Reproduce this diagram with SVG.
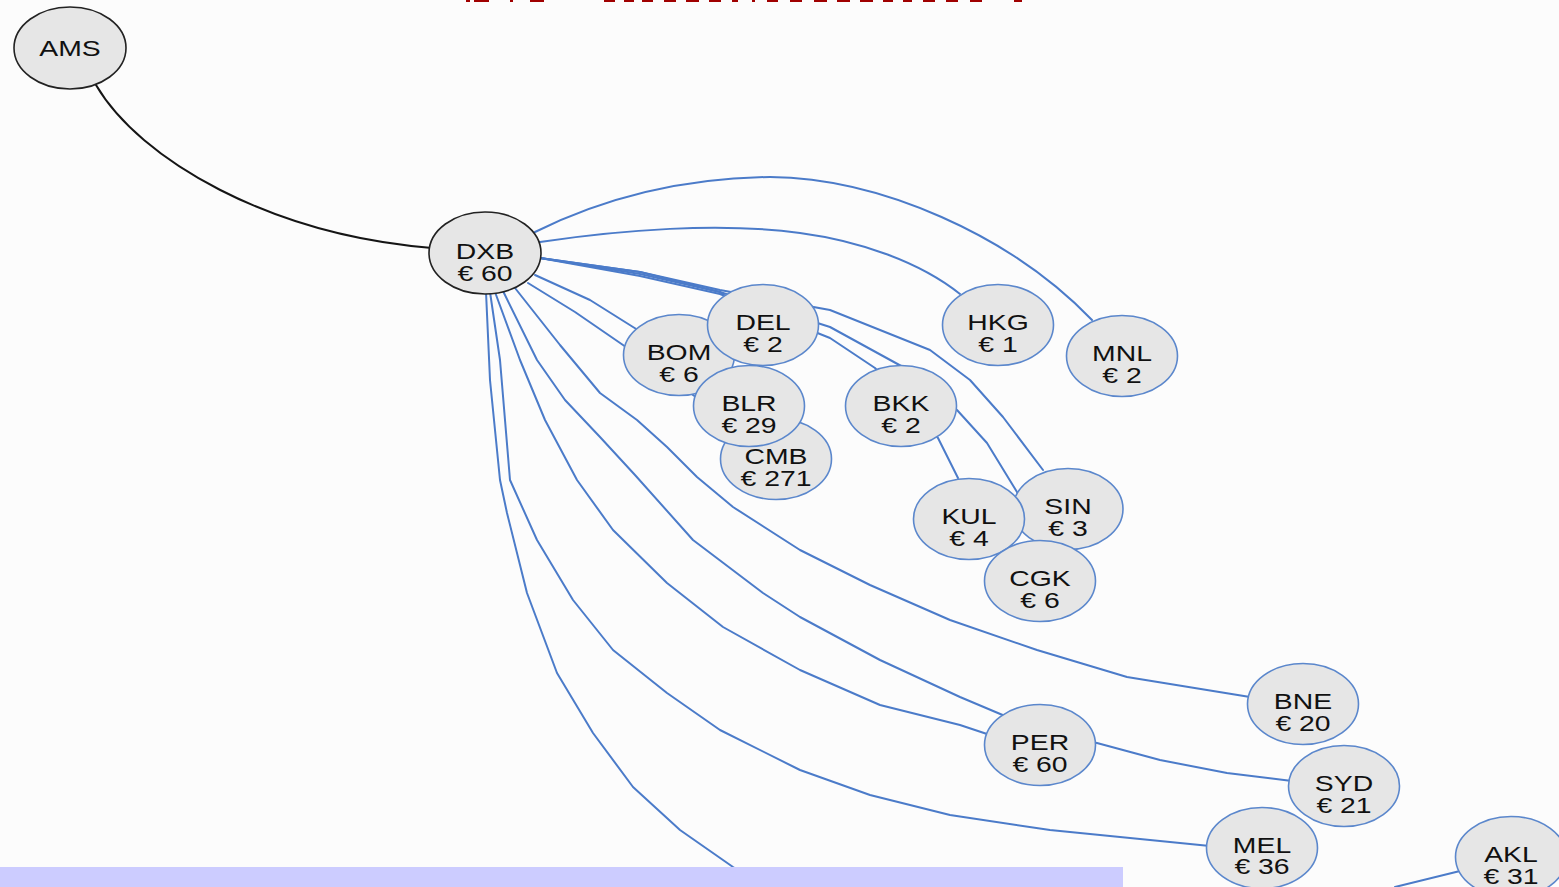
<svg xmlns="http://www.w3.org/2000/svg" width="1559" height="887" viewBox="0 0 1559 887">
<style>
.bg{fill:#fcfcfc}
.e{fill:none;stroke:#4b7bc9;stroke-width:2;stroke-linejoin:round;stroke-linecap:round}
.eb{fill:none;stroke:#151515;stroke-width:2;stroke-linejoin:round;stroke-linecap:round}
.n ellipse{fill:#e6e6e6;stroke:#5b87cc;stroke-width:1.6}
.nb ellipse{fill:#e6e6e6;stroke:#222;stroke-width:1.6}
text{font-family:"Liberation Sans",Arial,sans-serif;font-size:21.5px;fill:#111;text-anchor:middle}
.red{fill:#a00000}
</style>
<rect class="bg" x="0" y="0" width="1559" height="887"/>
<g id="title-fragments">
<rect class="red" x="466" y="0" width="4" height="2"/>
<rect class="red" x="474" y="0" width="15" height="2"/>
<rect class="red" x="510" y="0" width="3" height="2"/>
<rect class="red" x="530" y="0" width="14" height="2"/>
<rect class="red" x="604" y="0" width="11" height="2"/>
<rect class="red" x="624" y="0" width="10" height="2"/>
<rect class="red" x="642" y="0" width="11" height="2"/>
<rect class="red" x="664" y="0" width="12" height="2"/>
<rect class="red" x="686" y="0" width="13" height="2"/>
<rect class="red" x="709" y="0" width="12" height="2"/>
<rect class="red" x="732" y="0" width="6" height="2"/>
<rect class="red" x="752" y="0" width="3" height="2"/>
<rect class="red" x="767" y="0" width="11" height="2"/>
<rect class="red" x="790" y="0" width="12" height="2"/>
<rect class="red" x="814" y="0" width="13" height="2"/>
<rect class="red" x="837" y="0" width="13" height="2"/>
<rect class="red" x="860" y="0" width="13" height="2"/>
<rect class="red" x="883" y="0" width="10" height="2"/>
<rect class="red" x="903" y="0" width="9" height="2"/>
<rect class="red" x="923" y="0" width="12" height="2"/>
<rect class="red" x="946" y="0" width="12" height="2"/>
<rect class="red" x="970" y="0" width="12" height="2"/>
<rect class="red" x="1014" y="0" width="8" height="2"/>
</g>
<g id="connectors">
<path class="eb" d="M96,85 C140,160 270,235 432,248"/>
<path class="e" d="M535,232 C600,200 680,178 770,177 C880,178 1010,235 1092,320"/>
<path class="e" d="M540,242 C620,230 720,222 800,233 C860,241 920,262 960,294"/>
<polyline class="e" points="540,258 640,272 720,290 830,310 930,350 970,380 1003,417 1043,470"/>
<polyline class="e" points="540,258 640,274 720,292 830,327 903,367 957,410 987,443 1017,492 1040,540"/>
<polyline class="e" points="540,258 640,276 720,294 830,338 875,368 938,438 958,478"/>
<polyline class="e" points="540,258 640,272 720,292 762,324"/>
<polyline class="e" points="535,275 590,300 633,327 679,355"/>
<polyline class="e" points="528,283 575,312 623,345 700,400"/>
<polyline class="e" points="486,292 490,380 500,480 507,513 527,593 557,673 593,733 633,787 680,830 733,867 765,887"/>
<polyline class="e" points="490,292 500,360 510,480 537,540 573,600 613,650 667,693 720,730 800,770 870,795 950,815 1050,830 1150,840 1210,846"/>
<polyline class="e" points="495,292 520,360 545,420 577,480 613,530 667,583 723,627 800,670 880,705 960,725 990,735"/>
<polyline class="e" points="503,291 537,360 565,400 600,437 635,475 693,540 763,593 800,617 880,660 960,697 1005,716 1050,735 1097,743 1160,760 1227,773 1292,781"/>
<polyline class="e" points="515,288 560,345 600,393 637,420 667,447 697,477 733,507 800,550 870,585 950,620 1037,650 1127,677 1250,697"/>
<polyline class="e" points="1395,887 1460,871"/>
</g>
<g id="n-AMS" class="nb" transform="translate(70,48)"><ellipse rx="56" ry="41"/><text transform="scale(1.32,1)" x="0" y="8">AMS</text></g>
<g id="n-DXB" class="nb" transform="translate(485,253)"><ellipse rx="56" ry="41"/><text transform="scale(1.32,1)"><tspan x="0" y="6">DXB</tspan><tspan x="0" y="28">€ 60</tspan></text></g>
<g id="n-CMB" class="n" transform="translate(776,459)"><ellipse rx="55.5" ry="40.5"/><text transform="scale(1.32,1)"><tspan x="0" y="5">CMB</tspan><tspan x="0" y="27">€ 271</tspan></text></g>
<g id="n-BOM" class="n" transform="translate(679,355)"><ellipse rx="55.5" ry="40.5"/><text transform="scale(1.32,1)"><tspan x="0" y="5">BOM</tspan><tspan x="0" y="27">€ 6</tspan></text></g>
<g id="n-DEL" class="n" transform="translate(763,325)"><ellipse rx="55.5" ry="40.5"/><text transform="scale(1.32,1)"><tspan x="0" y="5">DEL</tspan><tspan x="0" y="27">€ 2</tspan></text></g>
<g id="n-BLR" class="n" transform="translate(749,406)"><ellipse rx="55.5" ry="40.5"/><text transform="scale(1.32,1)"><tspan x="0" y="5">BLR</tspan><tspan x="0" y="27">€ 29</tspan></text></g>
<g id="n-HKG" class="n" transform="translate(998,325)"><ellipse rx="55.5" ry="40.5"/><text transform="scale(1.32,1)"><tspan x="0" y="5">HKG</tspan><tspan x="0" y="27">€ 1</tspan></text></g>
<g id="n-MNL" class="n" transform="translate(1122,356)"><ellipse rx="55.5" ry="40.5"/><text transform="scale(1.32,1)"><tspan x="0" y="5">MNL</tspan><tspan x="0" y="27">€ 2</tspan></text></g>
<g id="n-BKK" class="n" transform="translate(901,406)"><ellipse rx="55.5" ry="40.5"/><text transform="scale(1.32,1)"><tspan x="0" y="5">BKK</tspan><tspan x="0" y="27">€ 2</tspan></text></g>
<g id="n-SIN" class="n" transform="translate(1068,509)"><ellipse rx="55" ry="40.5"/><text transform="scale(1.32,1)"><tspan x="0" y="5">SIN</tspan><tspan x="0" y="27">€ 3</tspan></text></g>
<g id="n-KUL" class="n" transform="translate(969,519)"><ellipse rx="55.5" ry="40.5"/><text transform="scale(1.32,1)"><tspan x="0" y="5">KUL</tspan><tspan x="0" y="27">€ 4</tspan></text></g>
<g id="n-CGK" class="n" transform="translate(1040,581)"><ellipse rx="55.5" ry="40.5"/><text transform="scale(1.32,1)"><tspan x="0" y="5">CGK</tspan><tspan x="0" y="27">€ 6</tspan></text></g>
<g id="n-BNE" class="n" transform="translate(1303,704)"><ellipse rx="55.5" ry="40.5"/><text transform="scale(1.32,1)"><tspan x="0" y="5">BNE</tspan><tspan x="0" y="27">€ 20</tspan></text></g>
<g id="n-PER" class="n" transform="translate(1040,745)"><ellipse rx="55.5" ry="40.5"/><text transform="scale(1.32,1)"><tspan x="0" y="5">PER</tspan><tspan x="0" y="27">€ 60</tspan></text></g>
<g id="n-SYD" class="n" transform="translate(1344,786)"><ellipse rx="55.5" ry="40.5"/><text transform="scale(1.32,1)"><tspan x="0" y="5">SYD</tspan><tspan x="0" y="27">€ 21</tspan></text></g>
<g id="n-MEL" class="n" transform="translate(1262,848)"><ellipse rx="55.5" ry="40.5"/><text transform="scale(1.32,1)"><tspan x="0" y="5">MEL</tspan><tspan x="0" y="26">€ 36</tspan></text></g>
<g id="n-AKL" class="n" transform="translate(1511,857)"><ellipse rx="55.5" ry="40.5"/><text transform="scale(1.32,1)"><tspan x="0" y="5">AKL</tspan><tspan x="0" y="27">€ 31</tspan></text></g>
<rect id="bottom-band" x="0" y="867" width="1123" height="20" fill="#ccccff"/>
</svg>
